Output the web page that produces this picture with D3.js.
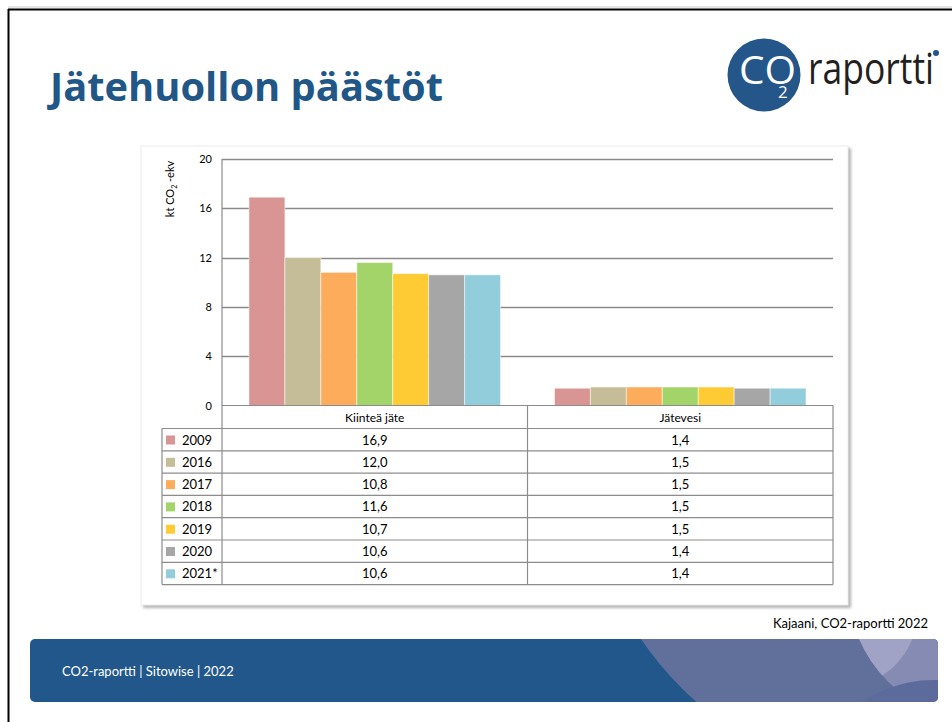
<!DOCTYPE html>
<html>
<head>
<meta charset="utf-8">
<script src="https://cdn.jsdelivr.net/npm/d3@7"></script>
<style>
  body { margin: 0; background: #fff; }
  svg { display: block; font-family: Lato, "Open Sans", sans-serif; }
</style>
</head>
<body>
<div id="chart"></div>
<script>
// data
var categories = ["Kiinteä jäte", "Jätevesi"];
var years = ["2009", "2016", "2017", "2018", "2019", "2020", "2021*"];
var kiintea = [16.9, 12.0, 10.8, 11.6, 10.7, 10.6, 10.6];
var jatevesi = [1.4, 1.5, 1.5, 1.5, 1.5, 1.4, 1.4];
var yTicks = [0, 4, 8, 12, 16, 20];
var colors = ["#d99594", "#c4bd97", "#fdac5b", "#a2d46a", "#fecb34", "#a6a6a6", "#92cddc"];

var W = 952, H = 722;
var svg = d3.select("#chart").append("svg").attr("width", W).attr("height", H);
var defs = svg.append("defs");

// slide frame
svg.append("line").attr("x1", 8).attr("x2", W).attr("y1", 7).attr("y2", 7).attr("stroke", "#c8c8c8").attr("stroke-width", 1);
svg.append("line").attr("x1", 8).attr("x2", W).attr("y1", 9.5).attr("y2", 9.5).attr("stroke", "#000").attr("stroke-width", 2);
svg.append("line").attr("x1", 8.5).attr("x2", 8.5).attr("y1", 9).attr("y2", H).attr("stroke", "#000").attr("stroke-width", 2);

// title
svg.append("text").attr("x", 50).attr("y", 101)
  .attr("font-family", "'Open Sans', sans-serif").attr("font-weight", 700)
  .attr("font-size", 39).attr("fill", "#215787")
  .attr("textLength", 393).attr("lengthAdjust", "spacingAndGlyphs")
  .text("Jätehuollon päästöt");

// logo
var logo = svg.append("g");
logo.append("circle").attr("cx", 764).attr("cy", 75).attr("r", 36.5).attr("fill", "#24568a");
logo.append("text").attr("x", 739).attr("y", 84).attr("fill", "#fff")
  .attr("font-family", "'Open Sans', sans-serif").attr("font-weight", 400).attr("font-size", 38)
  .attr("textLength", 57).attr("lengthAdjust", "spacingAndGlyphs").text("CO");
logo.append("text").attr("x", 778).attr("y", 98).attr("fill", "#fff")
  .attr("font-family", "'Open Sans', sans-serif").attr("font-size", 17).text("2");
logo.append("text").attr("x", 808).attr("y", 84).attr("fill", "#231f20")
  .attr("font-family", "'Open Sans', sans-serif").attr("font-weight", 400).attr("font-size", 44)
  .attr("textLength", 126).attr("lengthAdjust", "spacingAndGlyphs").text("raportti");
logo.append("circle").attr("cx", 936).attr("cy", 53).attr("r", 3).attr("fill", "#24568a");

// chart box with shadow
var blur = defs.append("filter").attr("id", "sh").attr("x", "-5%").attr("y", "-5%").attr("width", "110%").attr("height", "110%");
blur.append("feGaussianBlur").attr("stdDeviation", 1.5);
svg.append("rect").attr("x", 143).attr("y", 148).attr("width", 708).attr("height", 460)
  .attr("fill", "#b4b4b4").attr("filter", "url(#sh)");
svg.append("rect").attr("x", 141).attr("y", 146).attr("width", 707).attr("height", 459)
  .attr("fill", "#fff").attr("stroke", "#ececec");

// plot geometry
var plotLeft = 222, plotRight = 833, plotTop = 159, plotBottom = 405.5;
var headH = 23, rowH = 22.3, legendLeft = 162;

var y = d3.scaleLinear().domain([0, 20]).range([plotBottom, plotTop]);
var x0 = d3.scaleBand().domain(categories).range([plotLeft, plotRight]).padding(0);
var x1 = d3.scaleBand().domain(years).range([0, x0.bandwidth()]).paddingInner(0).paddingOuter(0.75);

// gridlines
svg.append("g").selectAll("line").data(yTicks.filter(function (d) { return d > 0; }))
  .enter().append("line")
  .attr("x1", plotLeft).attr("x2", plotRight)
  .attr("y1", function (d) { return Math.round(y(d)) + 0.5; })
  .attr("y2", function (d) { return Math.round(y(d)) + 0.5; })
  .attr("stroke", "#8a8a8a").attr("stroke-width", 1.3);

// y axis labels
svg.append("g").selectAll("text").data(yTicks).enter().append("text")
  .attr("x", 212).attr("y", function (d) { return y(d) + 4; })
  .attr("text-anchor", "end").attr("font-size", 11).attr("fill", "#000")
  .text(function (d) { return d; });

// y title
var yt = svg.append("text").attr("transform", "translate(174,189) rotate(-90)")
  .attr("text-anchor", "middle").attr("font-size", 11).attr("fill", "#000");
yt.append("tspan").text("kt CO");
yt.append("tspan").attr("font-size", 7).attr("dy", 3).text("2");
yt.append("tspan").attr("dy", -3).text(" -ekv");

// bars
var series = [kiintea, jatevesi];
var groups = svg.append("g").selectAll("g").data(categories).enter().append("g")
  .attr("transform", function (d) { return "translate(" + x0(d) + ",0)"; });
groups.selectAll("rect").data(function (d, ci) {
    return years.map(function (yr, i) { return { year: yr, value: series[ci][i], i: i }; });
  })
  .enter().append("rect")
  .attr("x", function (d) { return x1(d.year); })
  .attr("width", x1.bandwidth())
  .attr("y", function (d) { return y(d.value); })
  .attr("height", function (d) { return plotBottom - y(d.value); })
  .attr("fill", function (d) { return colors[d.i]; })
  .attr("stroke", "rgba(255,255,255,0.5)").attr("stroke-width", 1);

// data table
var tbl = svg.append("g").attr("stroke", "#8c8c8c").attr("stroke-width", 1.2);
var tableBottom = plotBottom + headH + rowH * years.length;
tbl.append("line").attr("x1", plotLeft).attr("x2", plotRight).attr("y1", plotBottom).attr("y2", plotBottom);
tbl.append("line").attr("x1", plotLeft).attr("x2", plotLeft).attr("y1", plotTop).attr("y2", tableBottom);
categories.forEach(function (c) {
  tbl.append("line").attr("x1", x0(c) + x0.bandwidth()).attr("x2", x0(c) + x0.bandwidth())
    .attr("y1", plotBottom).attr("y2", tableBottom);
});
tbl.append("line").attr("x1", legendLeft).attr("x2", legendLeft).attr("y1", plotBottom + headH).attr("y2", tableBottom);
d3.range(years.length + 1).forEach(function (i) {
  var yy = plotBottom + headH + rowH * i;
  tbl.append("line").attr("x1", legendLeft).attr("x2", plotRight).attr("y1", yy).attr("y2", yy);
});

svg.append("g").selectAll("text").data(categories).enter().append("text")
  .attr("x", function (d) { return x0(d) + x0.bandwidth() / 2; })
  .attr("y", plotBottom + 16).attr("text-anchor", "middle").attr("font-size", 12).attr("fill", "#000")
  .text(function (d) { return d; });

var fmt = function (v) { return d3.format(".1f")(v).replace(".", ","); };
var rows = svg.append("g").selectAll("g").data(years).enter().append("g")
  .attr("transform", function (d, i) { return "translate(0," + (plotBottom + headH + rowH * i) + ")"; });
rows.append("rect").attr("x", 166).attr("y", 7).attr("width", 9).attr("height", 9)
  .attr("fill", function (d, i) { return colors[i]; });
rows.append("text").attr("x", 182).attr("y", 16).attr("font-size", 13).attr("fill", "#000")
  .text(function (d) { return d; });
categories.forEach(function (c, ci) {
  rows.append("text").attr("x", x0(c) + x0.bandwidth() / 2).attr("y", 16)
    .attr("text-anchor", "middle").attr("font-size", 13).attr("fill", "#000")
    .text(function (d, i) { return fmt(series[ci][i]); });
});

// source note
svg.append("text").attr("x", 928).attr("y", 628).attr("text-anchor", "end")
  .attr("font-size", 13).attr("fill", "#000").text("Kajaani, CO2-raportti 2022");

// footer band
defs.append("clipPath").attr("id", "fclip").append("rect")
  .attr("x", 30).attr("y", 639).attr("width", 908).attr("height", 63).attr("rx", 5);
defs.append("clipPath").attr("id", "c5clip").append("circle").attr("cx", 985).attr("cy", 585).attr("r", 137);
var foot = svg.append("g").attr("clip-path", "url(#fclip)");
foot.append("rect").attr("x", 30).attr("y", 639).attr("width", 908).attr("height", 63).attr("fill", "#21578a");
foot.append("circle").attr("cx", 925).attr("cy", 445).attr("r", 344).attr("fill", "#61709b");
foot.append("circle").attr("cx", 985).attr("cy", 585).attr("r", 137).attr("fill", "#858bb3");
foot.append("circle").attr("cx", 840).attr("cy", 610).attr("r", 78).attr("fill", "#a1a3c6").attr("clip-path", "url(#c5clip)");
foot.append("circle").attr("cx", 933).attr("cy", 805).attr("r", 125).attr("fill", "#5c6b9b");
svg.append("text").attr("x", 62).attr("y", 676).attr("font-size", 13).attr("fill", "#fff")
  .text("CO2-raportti | Sitowise | 2022");
</script>
</body>
</html>
